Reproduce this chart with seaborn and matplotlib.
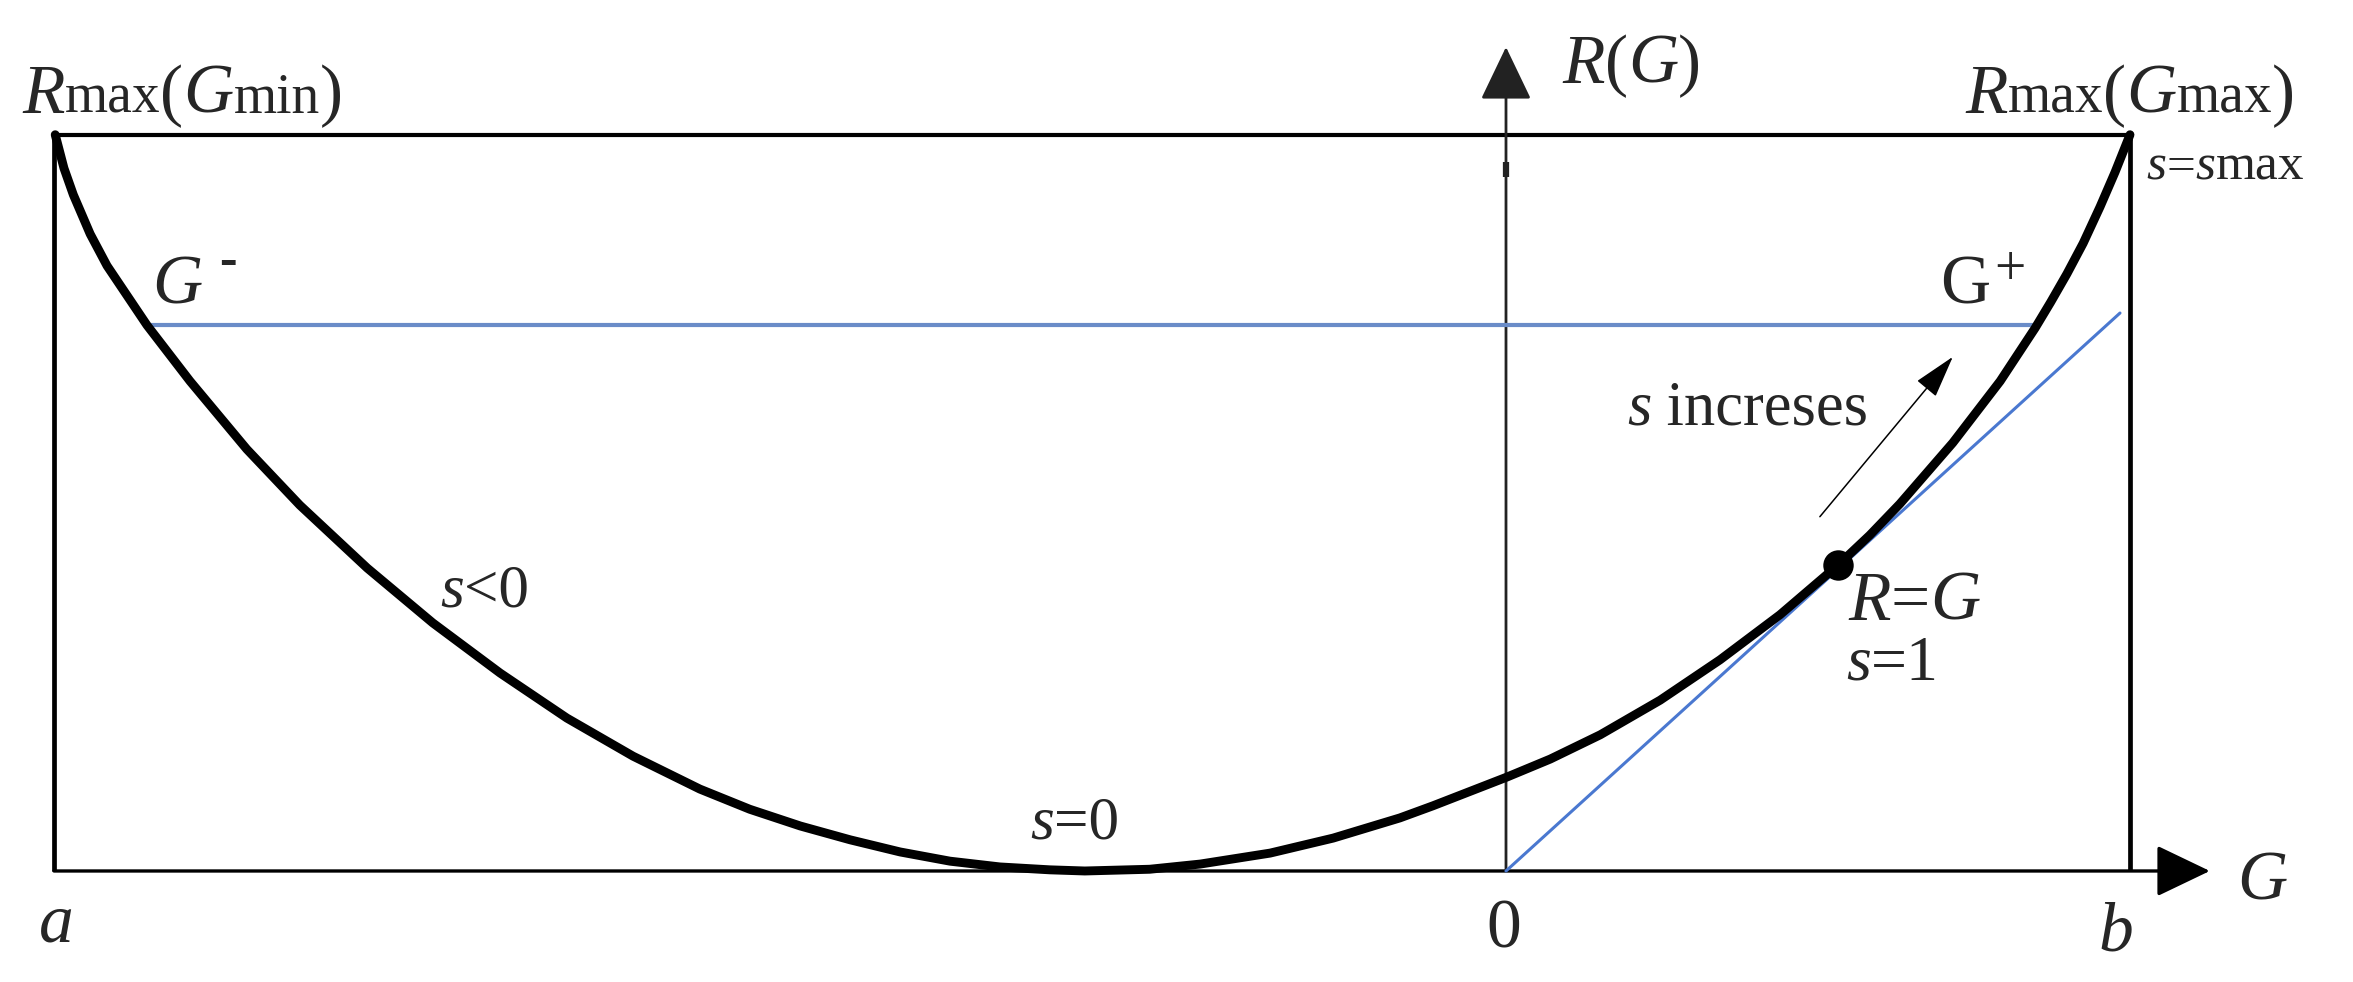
import matplotlib
matplotlib.use('Agg')
import matplotlib.pyplot as plt
import pandas as pd
import seaborn as sns

# R(G) curve (G on the horizontal axis, R vertical)
curve_g = [-2.325, -2.311, -2.296, -2.269, -2.242, -2.178, -2.109, -2.018, -1.933,
           -1.825, -1.720, -1.612, -1.505, -1.399, -1.292, -1.212, -1.131, -1.051,
           -0.971, -0.891, -0.811, -0.731, -0.675, -0.571, -0.490, -0.378, -0.277,
           -0.170, -0.117, 0.002, 0.071, 0.151, 0.247, 0.343, 0.439, 0.532,
           0.583, 0.631, 0.716, 0.792, 0.848, 0.873, 0.899, 0.925, 0.952,
           0.976, 1.000]
curve_r = [1.276, 1.218, 1.172, 1.104, 1.049, 0.946, 0.849, 0.731, 0.634,
           0.525, 0.430, 0.343, 0.265, 0.199, 0.142, 0.107, 0.078, 0.054,
           0.033, 0.017, 0.007, 0.002, 0.000, 0.003, 0.012, 0.031, 0.057,
           0.092, 0.113, 0.163, 0.194, 0.236, 0.296, 0.366, 0.444, 0.530,
           0.582, 0.636, 0.742, 0.849, 0.941, 0.986, 1.035, 1.088, 1.151,
           1.211, 1.276]

g_a = -2.327
g_b = 1.0
r_max = 1.276

# level line between G- and G+
level_g = [-2.178, 0.851]
level_r = [0.946, 0.946]

# R = G line
diag_g = [0.0, 0.984]
diag_r = [0.0, 0.967]

touch_g = [0.532]
touch_r = [0.530]

axis_g_tip = 1.128
axis_r_tip = 1.428

sns.set_style('white')
plt.rcParams['font.family'] = ['Liberation Serif', 'DejaVu Serif']

fig = plt.figure(figsize=(23.53, 9.82), dpi=100)
ax = fig.add_axes([0, 0, 1, 1])
ax.set_xlim(-2.4135, 1.3574)
ax.set_ylim(-0.1924, 1.5095)
ax.axis('off')

# frame
ax.vlines([g_a, g_b], 0, r_max, color='black', lw=3.4, zorder=2)
ax.hlines(r_max, g_a, g_b, color='black', lw=3.0, zorder=2)

# axes with arrows
head = dict(arrowstyle='-|>,head_length=1.69,head_width=0.81', mutation_scale=20,
            color='black', lw=2.4, shrinkA=0, shrinkB=0)
ax.annotate('', xy=(axis_g_tip, 0), xytext=(g_a, 0), arrowprops=head, zorder=2)
head_r = dict(head, color='#222222', lw=2.0)
ax.annotate('', xy=(0, axis_r_tip), xytext=(0, 0), arrowprops=head_r, zorder=2)
ax.vlines(0, 1.203, 1.229, color='#222222', lw=4.5, zorder=2)

# blue lines
sns.lineplot(x=level_g, y=level_r, color='#6a8cc8', lw=3.0, estimator=None,
             sort=False, ax=ax, zorder=3)
sns.lineplot(x=diag_g, y=diag_r, color='#4a78d0', lw=2.2, estimator=None,
             sort=False, ax=ax, zorder=3)

# the curve
curve = pd.DataFrame({'G': curve_g, 'R': curve_r})
sns.lineplot(data=curve, x='G', y='R', color='black', lw=6.4, estimator=None,
             sort=False, ax=ax, zorder=4, solid_capstyle='round',
             solid_joinstyle='round')
sns.scatterplot(x=touch_g, y=touch_r, s=480, color='black', edgecolor='black',
                linewidth=0, ax=ax, zorder=5)

# "s increases" arrow
ax.annotate('', xy=(0.716, 0.891), xytext=(0.503, 0.614),
            arrowprops=dict(arrowstyle='-|>,head_length=0.45,head_width=0.13',
                            mutation_scale=60, color='black', lw=1.1,
                            shrinkA=0, shrinkB=0), zorder=5)


def rich(x, y, parts):
    # pieces of text set on one baseline, one after another
    prev = None
    for txt, size, style in parts:
        if prev is None:
            prev = ax.text(x, y, txt, fontsize=size, fontstyle=style,
                           ha='left', va='baseline', zorder=6)
        else:
            prev = ax.annotate(txt, xy=(1, y), xycoords=(prev, 'data'),
                               fontsize=size, fontstyle=style,
                               ha='left', va='baseline', zorder=6)
    return prev


big, small = 50, 40
rich(-2.378, 1.314, [('R', big, 'italic'), ('max', small, 'normal'), ('(', big, 'normal'),
                     ('G', big, 'italic'), ('min', small, 'normal'), (')', big, 'normal')])
rich(0.736, 1.314, [('R', big, 'italic'), ('max', small, 'normal'), ('(', big, 'normal'),
                    ('G', big, 'italic'), ('max', small, 'normal'), (')', big, 'normal')])
rich(0.090, 1.366, [('R', big, 'italic'), ('(', big, 'normal'), ('G', big, 'italic'),
                    (')', big, 'normal')])
rich(1.027, 1.198, [('s', 37, 'italic'), ('=', 37, 'normal'), ('s', 37, 'italic'),
                    ('max', 37, 'normal')])
rich(0.194, 0.773, [('s', 45, 'italic'), (' increses', 45, 'normal')])
rich(0.548, 0.435, [('R', big, 'italic'), ('=', big, 'normal'), ('G', big, 'italic')])
rich(0.545, 0.331, [('s', 46, 'italic'), ('=1', 46, 'normal')])
rich(-1.708, 0.458, [('s', 44, 'italic'), ('<0', 44, 'normal')])
rich(-0.763, 0.057, [('s', 44, 'italic'), ('=0', 44, 'normal')])

ax.text(-2.170, 0.984, 'G', fontsize=big, fontstyle='italic', ha='left', va='baseline')
ax.text(-2.048, 1.055, '-', fontsize=38, fontweight='bold', ha='center', va='center')
ax.text(0.696, 0.984, 'G', fontsize=big, fontstyle='normal', ha='left', va='baseline')
ax.text(0.808, 1.040, '+', fontsize=40, ha='center', va='center')

ax.text(-2.324, -0.123, 'a', fontsize=big, fontstyle='italic', ha='center', va='baseline')
ax.text(-0.003, -0.132, '0', fontsize=big, ha='center', va='baseline')
ax.text(0.978, -0.137, 'b', fontsize=big, fontstyle='italic', ha='center', va='baseline')
ax.text(1.171, -0.050, 'G', fontsize=big, fontstyle='italic', ha='left', va='baseline')

fig.savefig('out.png', dpi=100, facecolor='white')
